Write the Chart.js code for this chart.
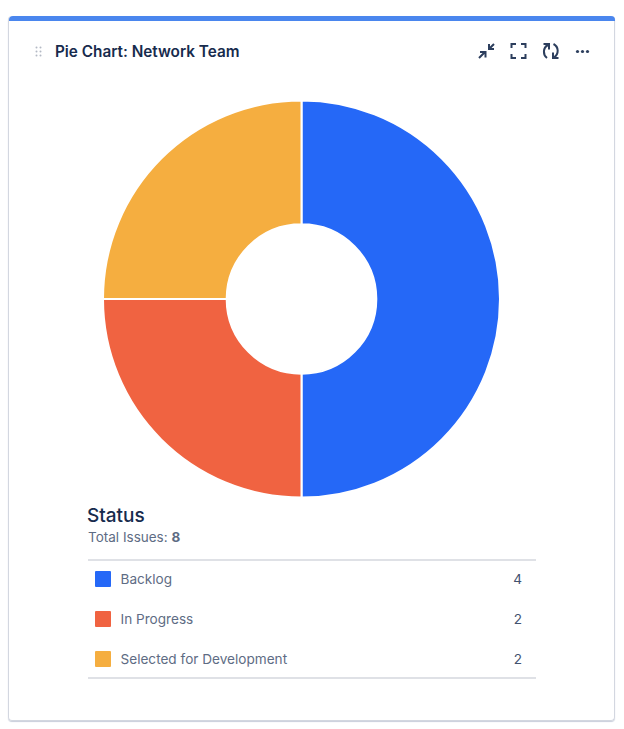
<!DOCTYPE html>
<html>
<head>
<meta charset="utf-8">
<script src="https://cdn.jsdelivr.net/npm/chart.js@4"></script>
<style>
    html, body { margin: 0; padding: 0; background: #fff; }
    body { width: 624px; height: 729px; position: relative; overflow: hidden; font-family: Inter, "Liberation Sans", sans-serif; }
    .card { position: absolute; left: 8px; top: 16px; width: 605px; height: 704px; border: 1px solid #d3d7e0; border-top: 0; border-radius: 4px; box-shadow: 0 1px 1px #c9cedb; }
    .topbar { position: absolute; left: 9px; top: 16px; width: 606px; height: 5px; background: #4a86ee; border-radius: 4px 4px 0 0; }
    .title { position: absolute; left: 55px; top: 42px; font-size: 15.3px; line-height: 19px; font-weight: 600; color: #172b4d; }
    .grip { position: absolute; left: 35px; top: 46px; }
    .icon { position: absolute; top: 41px; }
    #chartWrap { position: absolute; left: 101px; top: 99px; width: 401px; height: 400px; }
    .heading { position: absolute; left: 87px; top: 504px; font-size: 19px; line-height: 23px; font-weight: 500; color: #172b4d; }
    .total { position: absolute; left: 88px; top: 529px; font-size: 13.5px; line-height: 17px; color: #5e6c84; }
    .total b { font-weight: 700; }
    .rule { position: absolute; left: 88px; width: 448px; height: 2px; background: #dfe1e6; }
    .row { position: absolute; left: 88px; width: 448px; height: 20px; font-size: 13.6px; line-height: 20px; color: #5e6c84; }
    .swatch { position: absolute; left: 6.5px; top: 2px; width: 16px; height: 16px; border-radius: 1px; }
    .label { position: absolute; left: 32.5px; top: 0; white-space: nowrap; }
    .count { position: absolute; right: 14px; top: 0; color: #42526e; }
</style>
</head>
<body>
<div class="card"></div>
<div class="topbar"></div>
<svg class="grip" width="8" height="12" fill="#b3b9c4">
    <circle cx="1.5" cy="1.5" r="1"/><circle cx="5.5" cy="1.5" r="1"/>
    <circle cx="1.5" cy="5.5" r="1"/><circle cx="5.5" cy="5.5" r="1"/>
    <circle cx="1.5" cy="9.5" r="1"/><circle cx="5.5" cy="9.5" r="1"/>
</svg>
<div class="title">Pie Chart: Network Team</div>

<svg class="icon" style="left:477px" width="20" height="20" fill="none" stroke="#2c3e5d" stroke-width="2">
    <path d="M17 3 L12 8 M12 3 V8 H17"/><path d="M2 17 L8 11 M3 11 H8.5 V16.5"/>
</svg>
<svg class="icon" style="left:510px" width="18" height="20" fill="none" stroke="#2c3e5d" stroke-width="2">
    <path d="M1.5 7 V3 H6 M11 3 H15.5 V7 M15.5 13 V17 H11 M6 17 H1.5 V13"/>
</svg>
<svg class="icon" style="left:541px" width="20" height="20" fill="none" stroke="#2c3e5d" stroke-width="2">
    <path d="M7 4 C1.5 7 2 14 6 17 M2.5 3 H8 V8.5"/><path d="M12.5 3 C18 6 18 13 13 16.5 M17.5 17 H12 V11.5"/>
</svg>
<svg class="icon" style="left:575px" width="15" height="20" fill="#2c3e5d">
    <circle cx="2.5" cy="10.5" r="1.6"/><circle cx="7.5" cy="10.5" r="1.6"/><circle cx="12.5" cy="10.5" r="1.6"/>
</svg>

<div id="chartWrap"><canvas id="pie" width="401" height="400"></canvas></div>

<div class="heading">Status</div>
<div class="total">Total Issues: <b id="total"></b></div>
<div class="rule" style="top:559px"></div>
<div id="legend"></div>
<div class="rule" style="top:676.5px"></div>

<script>
const categories = ['Backlog', 'In Progress', 'Selected for Development'];
const issueCounts = [4, 2, 2];
const sliceColors = ['#2568f7', '#f06341', '#f5ae40'];
const rowTops = [569, 609, 649];

document.getElementById('total').textContent = issueCounts.reduce((a, b) => a + b, 0);

const legendEl = document.getElementById('legend');
categories.forEach((name, i) => {
    const row = document.createElement('div');
    row.className = 'row';
    row.style.top = rowTops[i] + 'px';
    row.innerHTML = `<span class="swatch" style="background:${sliceColors[i]}"></span><span class="label">${name}</span><span class="count">${issueCounts[i]}</span>`;
    legendEl.appendChild(row);
});

new Chart(document.getElementById('pie').getContext('2d'), {
    type: 'doughnut',
    data: {
        labels: categories,
        datasets: [{
            data: issueCounts,
            backgroundColor: sliceColors,
            borderColor: '#ffffff',
            borderWidth: 2
        }]
    },
    options: {
        responsive: false,
        animation: false,
        radius: 198.5,
        cutout: 75,
        layout: { padding: 0 },
        plugins: { legend: { display: false }, tooltip: { enabled: false } }
    }
});
</script>
</body>
</html>
